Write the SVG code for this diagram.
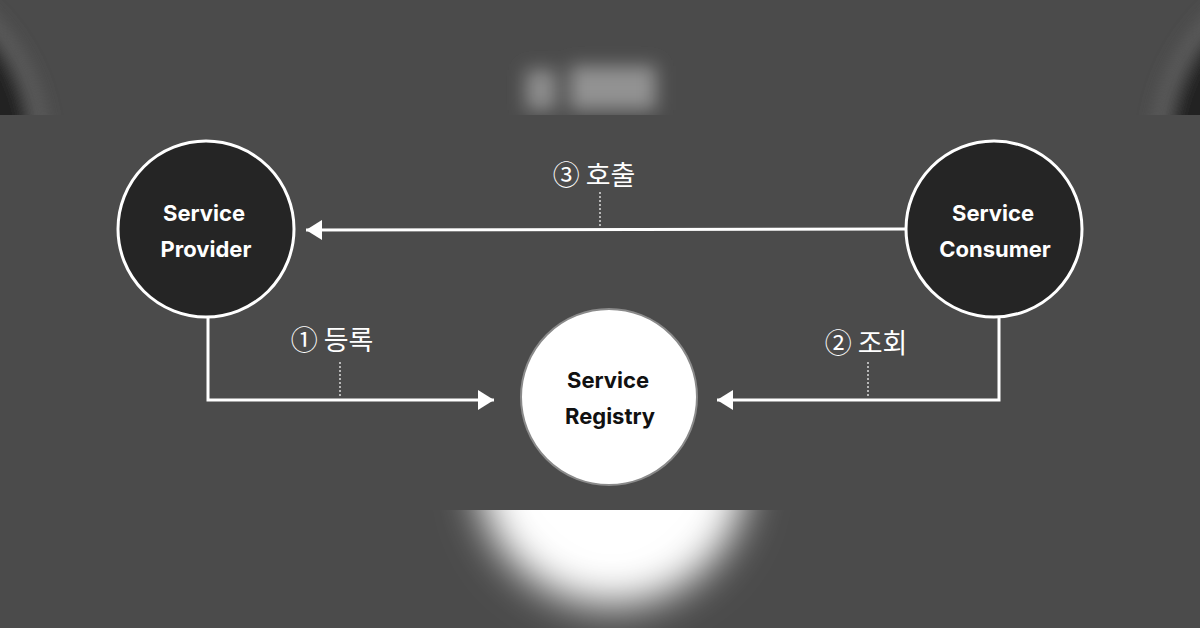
<svg xmlns="http://www.w3.org/2000/svg" width="1200" height="628" viewBox="0 0 1200 628">
<defs>
<filter id="blur" x="-50%" y="-50%" width="200%" height="200%"><feGaussianBlur stdDeviation="9"/></filter>
<filter id="blur2" x="-50%" y="-50%" width="200%" height="200%"><feGaussianBlur stdDeviation="20"/></filter>
<clipPath id="topClip"><rect x="0" y="0" width="1200" height="115"/></clipPath>
<clipPath id="botClip"><rect x="0" y="510" width="1200" height="118"/></clipPath>
<marker id="ah" viewBox="0 0 16 20" refX="16" refY="10" markerWidth="18" markerHeight="20" markerUnits="userSpaceOnUse" orient="auto"><path d="M0,0 L16,10 L0,20 z" fill="#ffffff"/></marker>
</defs>
<style>
.node-dark{fill:#252525;stroke:#ffffff;stroke-width:3}
.node-light{fill:#ffffff;stroke:#8a8a8a;stroke-width:2}
.lbl{font-family:Inter,"Liberation Sans",sans-serif;font-weight:700;font-size:22px;text-anchor:middle}
.kr{font-family:"Noto Sans CJK KR","Noto Sans",sans-serif;font-size:27px;fill:#ffffff}
.edge{fill:none;stroke:#ffffff;stroke-width:3}
.dot{fill:none;stroke:#ffffff;stroke-width:1.2;stroke-dasharray:2 2}
</style>
<rect x="0" y="0" width="1200" height="628" fill="#4b4b4b"/>
<g id="background-blur">
<g clip-path="url(#topClip)">
<g filter="url(#blur)">
<circle cx="-145" cy="150" r="192" fill="#626262"/>
<circle cx="-145" cy="150" r="178" fill="#222222"/>
<circle cx="1345" cy="150" r="192" fill="#626262"/>
<circle cx="1345" cy="150" r="178" fill="#222222"/>
<rect x="526" y="70" width="30" height="40" fill="#8e8e8e"/>
<rect x="570" y="66" width="86" height="44" fill="#929292"/>
</g>
</g>
<g clip-path="url(#botClip)">
<circle cx="612" cy="470" r="135" fill="#ffffff" filter="url(#blur2)"/>
</g>
</g>
<g id="connectors">
<line class="edge" x1="906" y1="229" x2="306" y2="230" marker-end="url(#ah)"/>
<polyline class="edge" points="208,318 208,400 494,400" marker-end="url(#ah)"/>
<polyline class="edge" points="999,318 999,400 717,400" marker-end="url(#ah)"/>
<line class="dot" x1="600" y1="192" x2="600" y2="228"/>
<line class="dot" x1="340" y1="362" x2="340" y2="398"/>
<line class="dot" x1="868" y1="362" x2="868" y2="398"/>
</g>
<g id="label-call"><text class="kr" x="594" y="185" text-anchor="middle">③ 호출</text></g>
<g id="label-register"><text class="kr" x="332" y="350" text-anchor="middle">① 등록</text></g>
<g id="label-lookup"><text class="kr" x="866" y="353" text-anchor="middle">② 조회</text></g>
<g id="provider">
<circle class="node-dark" cx="206" cy="229" r="88"/>
<text class="lbl" x="204" y="221" fill="#ffffff">Service</text>
<text class="lbl" x="206" y="257" fill="#ffffff">Provider</text>
</g>
<g id="consumer">
<circle class="node-dark" cx="994" cy="229" r="88"/>
<text class="lbl" x="993" y="221" fill="#ffffff">Service</text>
<text class="lbl" x="995" y="257" fill="#ffffff">Consumer</text>
</g>
<g id="registry">
<circle class="node-light" cx="609" cy="397" r="88"/>
<text class="lbl" x="608" y="388" fill="#111111">Service</text>
<text class="lbl" x="610" y="424" fill="#111111">Registry</text>
</g>
</svg>
